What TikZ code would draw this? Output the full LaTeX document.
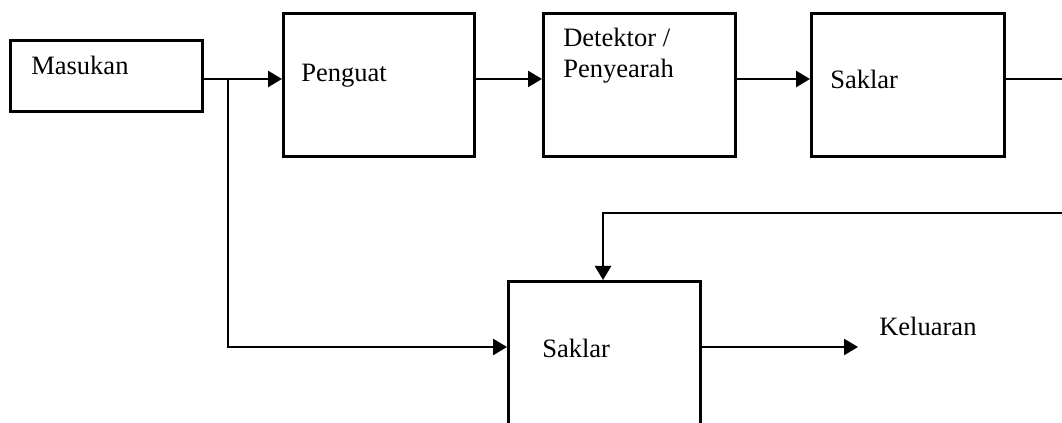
\documentclass[tikz,border=0pt]{standalone}
\usepackage{fontspec}
\setmainfont{Liberation Serif}
\usetikzlibrary{arrows.meta}
\begin{document}
\begin{tikzpicture}[x=0.75pt,y=-0.75pt,
  blk/.style={draw,line width=1.9pt,anchor=north west,inner sep=0pt,minimum height=107.25pt},
  lbl/.style={anchor=base west,inner sep=0pt,font=\fontsize{19.9}{23.25}\selectfont},
  wire/.style={line width=1.9pt},
  arr/.style={wire,-{Triangle[length=10.5pt,width=12pt]}}]
\useasboundingbox (0,0) rectangle (1062,423);
\begin{scope}
\clip (0,0) rectangle (1062,423);
\node[blk,minimum width=144pt,minimum height=53.25pt] (m) at (9,39) {};
\node[blk,minimum width=143.25pt] (p) at (282,12) {};
\node[blk,minimum width=144pt] (d) at (542,12) {};
\node[blk,minimum width=144.75pt] (s1) at (810,12) {};
\node[blk,minimum width=144pt,minimum height=120pt] (s2) at (507,280) {};
\node[lbl] (tm) at (31,75) {Masukan};
\node[lbl] (tp) at (301,82) {Penguat};
\node[lbl,align=left] (td) at (563,78) {Detektor /\\Penyearah};
\node[lbl] (ts1) at (830,89) {Saklar};
\node[lbl] (ts2) at (542,358) {Saklar};
\node[lbl] (tk) at (879,336) {Keluaran};
\coordinate (row) at (0,79);
\coordinate (tap) at (228,79);
\coordinate (low) at (228,347);
\coordinate (fb) at (603,213);
\coordinate (re1) at (1062,79);
\coordinate (re2) at (1062,213);
\coordinate (out) at (858,347);
\draw[arr] (m.east |- row) -- (p.west |- row);
\draw[arr] (p.east |- row) -- (d.west |- row);
\draw[arr] (d.east |- row) -- (s1.west |- row);
\draw[wire] (s1.east |- row) -- (re1);
\draw[arr] (re2) -- (fb) -- (fb |- s2.north);
\draw[arr] (tap) -- (low) -- (s2.west |- low);
\draw[arr] (s2.east |- low) -- (out);
\end{scope}
\end{tikzpicture}
\end{document}
